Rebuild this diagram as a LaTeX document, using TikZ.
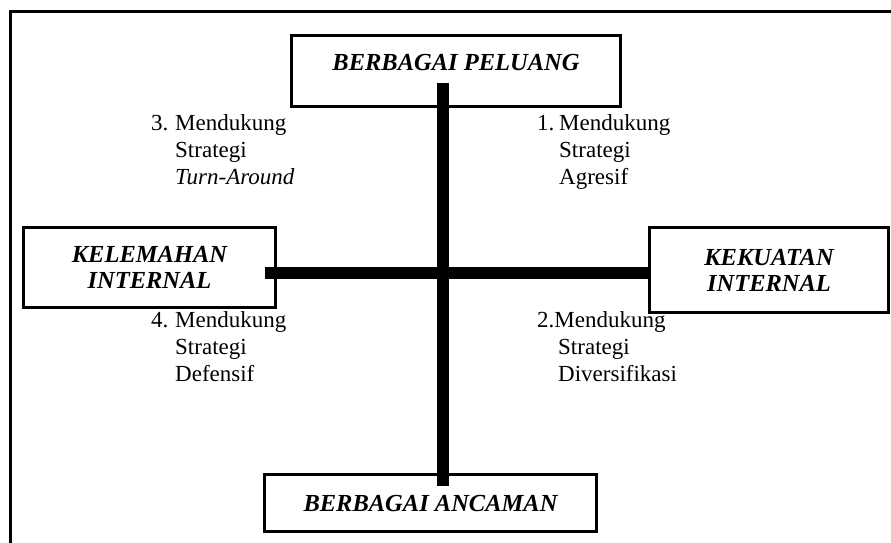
\documentclass[tikz,border=0pt]{standalone}
\usepackage{fontspec}
\setmainfont{Liberation Serif}
\frenchspacing
\begin{document}
\begin{tikzpicture}[x=1pt,y=-1pt,
    kotak/.style={draw,line width=3pt,inner sep=0pt,align=center,
      font=\fontsize{24.5}{26}\selectfont\bfseries\itshape},
    teks/.style={anchor=north west,inner sep=0pt,align=left,
      font=\fontsize{23}{27}\selectfont},
    batang/.style={line width=12pt}]
  \clip (0,0) rectangle (891,542);
  \draw[line width=3pt] (10,11.5) rectangle (910,570);
  \node[kotak,minimum width=329pt,minimum height=71pt,text depth=18pt] (peluang) at (456,71) {BERBAGAI PELUANG};
  \node[kotak,minimum width=332pt,minimum height=57pt] (ancaman) at (430.5,503) {BERBAGAI ANCAMAN};
  \node[kotak,minimum width=252pt,minimum height=80pt] (kelemahan) at (149.5,267.5) {KELEMAHAN\\INTERNAL};
  \node[kotak,minimum width=239pt,minimum height=85pt] (kekuatan) at (769,270) {KEKUATAN\\INTERNAL};
  \node[teks] (agresif) at (537,114) {\makebox[22pt][l]{1.}Mendukung\\\hspace*{22pt}Strategi\\\hspace*{22pt}Agresif};
  \node[teks] (diversifikasi) at (537,311) {2.Mendukung\\\hspace*{21pt}Strategi\\\hspace*{21pt}Diversifikasi};
  \node[teks] (turnaround) at (151,114) {\makebox[24pt][l]{3.}Mendukung\\\hspace*{24pt}Strategi\\\hspace*{24pt}\textit{Turn-Around}};
  \node[teks] (defensif) at (151,311) {\makebox[24pt][l]{4.}Mendukung\\\hspace*{24pt}Strategi\\\hspace*{24pt}Defensif};
  \coordinate (atas) at (443,83);
  \coordinate (bawah) at (443,486);
  \coordinate (kiri) at (265,272.5);
  \begin{scope}[batang]
    \draw (atas) -- (bawah);
    \draw (kiri) -- (kiri -| kekuatan.west);
  \end{scope}
\end{tikzpicture}
\end{document}
